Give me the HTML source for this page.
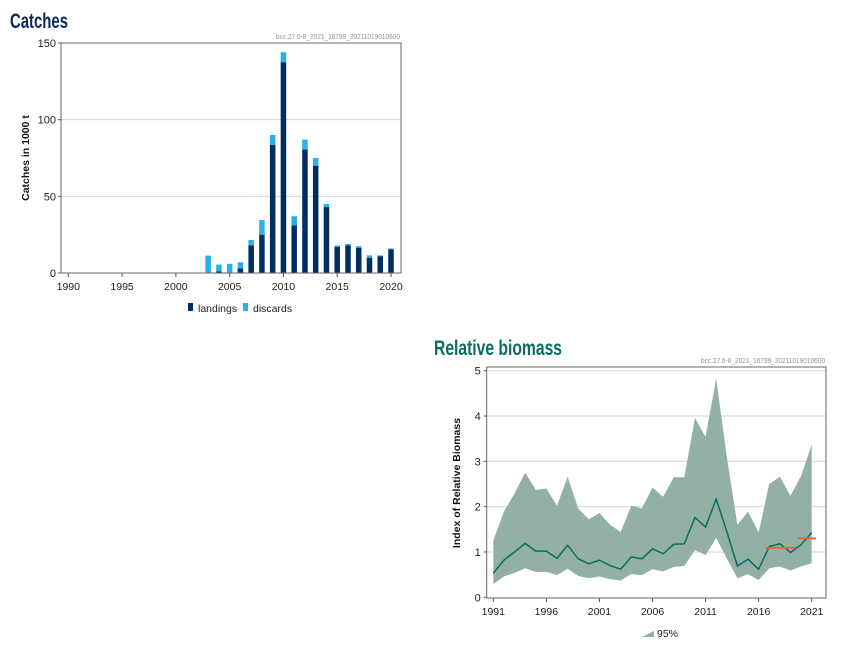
<!DOCTYPE html>
<html><head><meta charset="utf-8"><style>
body{margin:0;background:#fff;width:850px;height:650px;overflow:hidden;font-family:"Liberation Sans",sans-serif}
</style></head><body>
<svg id="svg" width="850" height="650" xmlns="http://www.w3.org/2000/svg">
<text x="10" y="28" font-size="21" font-weight="bold" fill="#0b2a5b" textLength="58" lengthAdjust="spacingAndGlyphs">Catches</text>
<text x="400" y="39" font-size="7" fill="#8a93a0" text-anchor="end" textLength="124" lengthAdjust="spacingAndGlyphs">bcc.27.6-8_2021_16799_20211019010600</text>
<g id="c1"></g>
<text x="434" y="355" font-size="21" font-weight="bold" fill="#0a6e5e" textLength="128" lengthAdjust="spacingAndGlyphs">Relative biomass</text>
<text x="825" y="363" font-size="7" fill="#8a93a0" text-anchor="end" textLength="124" lengthAdjust="spacingAndGlyphs">bcc.27.6-8_2021_16799_20211019010600</text>
<g id="c2"></g>
</svg>
<script>
const catchYears=[1991,1992,1993,1994,1995,1996,1997,1998,1999,2000,2001,2002,2003,2004,2005,2006,2007,2008,2009,2010,2011,2012,2013,2014,2015,2016,2017,2018,2019,2020];
const landings=[0.3,0.3,0.3,0.3,0.3,0.3,0.3,0.3,0.3,0.3,0.3,0.3,0.5,1,0.3,3,18,25,83.5,137.5,31,80.5,70,43,17,18,16.5,10,11,15.5];
const discards=[0,0,0,0,0,0,0,0,0,0,0,0,10.8,4.5,5.7,4,3.5,9.5,6.5,6.5,6,6.5,5,2,1,1,1,1.5,0.5,0.5];
const catchTicksY=[0,50,100,150];
const catchTicksX=[1990,1995,2000,2005,2010,2015,2020];

const bioYears=[1991,1992,1993,1994,1995,1996,1997,1998,1999,2000,2001,2002,2003,2004,2005,2006,2007,2008,2009,2010,2011,2012,2013,2014,2015,2016,2017,2018,2019,2020,2021];
const bioMean=[0.53,0.82,1.0,1.19,1.02,1.02,0.86,1.15,0.85,0.74,0.82,0.7,0.62,0.89,0.85,1.07,0.96,1.17,1.18,1.76,1.55,2.17,1.45,0.69,0.84,0.62,1.12,1.18,0.99,1.16,1.43];
const bioUpper=[1.25,1.89,2.29,2.75,2.37,2.4,2.02,2.66,1.96,1.72,1.86,1.6,1.44,2.02,1.96,2.42,2.22,2.65,2.65,3.96,3.54,4.83,3.1,1.6,1.89,1.43,2.5,2.66,2.24,2.68,3.37];
const bioLower=[0.29,0.46,0.54,0.64,0.56,0.56,0.49,0.63,0.47,0.42,0.46,0.4,0.37,0.51,0.49,0.62,0.57,0.67,0.69,1.04,0.93,1.31,0.86,0.42,0.51,0.38,0.64,0.68,0.59,0.68,0.75];
const refStart=[2016.6,2019.7];
const refEnd=[2019.5,2021.4];
const refValue=[1.09,1.3];
const bioTicksY=[0,1,2,3,4,5];
const bioTicksX=[1991,1996,2001,2006,2011,2016,2021];

const NS="http://www.w3.org/2000/svg";
function mk(p,t,a){const e=document.createElementNS(NS,t);for(const k in a)e.setAttribute(k,a[k]);p.appendChild(e);return e;}

// Catches chart
(function(){
const g=document.getElementById('c1');
const L=61,R=401,T=43,B=273;
const x=v=>68.3+(v-1990)*(391-68.3)/30;
const y=v=>B-v*(B-T)/150;
catchTicksY.forEach(v=>{
 if(v>0){const l=mk(g,'line',{x1:L,x2:R,y1:y(v),y2:y(v),stroke:'#d6d6d6','stroke-width':1});
 }
 const t=mk(g,'text',{x:L-5,y:y(v)+4,'font-size':11,'text-anchor':'end',fill:'#222'});t.textContent=v;
 
 mk(g,'line',{x1:L-3,x2:L,y1:y(v),y2:y(v),stroke:'#555'});
});
catchTicksX.forEach(v=>{
 mk(g,'line',{x1:x(v),x2:x(v),y1:B,y2:B+4,stroke:'#555'});
 const t=mk(g,'text',{x:x(v),y:B+17,'font-size':10.5,'text-anchor':'middle',fill:'#222'});t.textContent=v;
 
});
catchYears.forEach((yr,i)=>{
 const w=5.5,xc=x(yr);
 const b1=mk(g,'rect',{x:xc-w/2,y:y(landings[i]),width:w,height:B-y(landings[i]),fill:'#002d5f'});
 
 if(discards[i]>0){const b2=mk(g,'rect',{x:xc-w/2,y:y(landings[i]+discards[i]),width:w,height:y(landings[i])-y(landings[i]+discards[i]),fill:'#29b0e6'});
 }
});
const fr=mk(g,'rect',{x:L,y:T,width:R-L,height:B-T,fill:'none',stroke:'#666','stroke-width':1});

const yt=mk(g,'text',{x:0,y:0,'font-size':10.5,'font-weight':'bold','text-anchor':'middle',fill:'#111',transform:'translate(29,158) rotate(-90)'});
yt.textContent='Catches in 1000 t';
const l1=mk(g,'rect',{x:188,y:303,width:5,height:8,fill:'#002d5f'});
const t1=mk(g,'text',{x:198,y:312,'font-size':10.5,fill:'#222'});t1.textContent='landings';
const l2=mk(g,'rect',{x:243,y:303,width:5,height:8,fill:'#29b0e6'});
const t2=mk(g,'text',{x:253,y:312,'font-size':10.5,fill:'#222'});t2.textContent='discards';
})();

// Biomass chart
(function(){
const g=document.getElementById('c2');
const L=486.7,R=826,T=367,B=598;
const x=v=>493.3+(v-1991)*(811.7-493.3)/30;
const y=v=>597.3-v*(597.3-370.7)/5;
bioTicksY.forEach(v=>{
 if(v>0){const l=mk(g,'line',{x1:L,x2:R,y1:y(v),y2:y(v),stroke:'#d6d6d6'});
 }
 mk(g,'line',{x1:L-3,x2:L,y1:y(v),y2:y(v),stroke:'#555'});
 const t=mk(g,'text',{x:L-6,y:y(v)+4,'font-size':11,'text-anchor':'end',fill:'#222'});t.textContent=v;
 
});
bioTicksX.forEach(v=>{
 mk(g,'line',{x1:x(v),x2:x(v),y1:B,y2:B+4,stroke:'#555'});
 const t=mk(g,'text',{x:x(v),y:B+17,'font-size':10.5,'text-anchor':'middle',fill:'#222'});t.textContent=v;
 
});
let d='';
bioYears.forEach((yr,i)=>{d+=(i?'L':'M')+x(yr)+','+y(bioUpper[i]);});
for(let i=bioYears.length-1;i>=0;i--)d+='L'+x(bioYears[i])+','+y(bioLower[i]);
const band=mk(g,'path',{d:d+'Z',fill:'#93b0a5'});

let dl='';bioYears.forEach((yr,i)=>{dl+=(i?'L':'M')+x(yr)+','+y(bioMean[i]);});
const ln=mk(g,'path',{d:dl,fill:'none',stroke:'#0a6e5e','stroke-width':1.5});

refValue.forEach((v,i)=>{
 const r=mk(g,'line',{x1:x(refStart[i]),x2:x(refEnd[i]),y1:y(v),y2:y(v),stroke:'#f0622a','stroke-width':1.8});
 
});
const fr=mk(g,'rect',{x:L,y:T,width:R-L,height:B-T,fill:'none',stroke:'#666'});

const yt=mk(g,'text',{x:0,y:0,'font-size':10.5,'font-weight':'bold','text-anchor':'middle',fill:'#111',transform:'translate(460,483) rotate(-90)'});
yt.textContent='Index of Relative Biomass';
const ls=mk(g,'path',{d:'M642,637 L654,631 L654,637 Z',fill:'#93b0a5'});

const lt=mk(g,'text',{x:657,y:637,'font-size':10.5,fill:'#222'});lt.textContent='95%';

})();
</script>
</body></html>
